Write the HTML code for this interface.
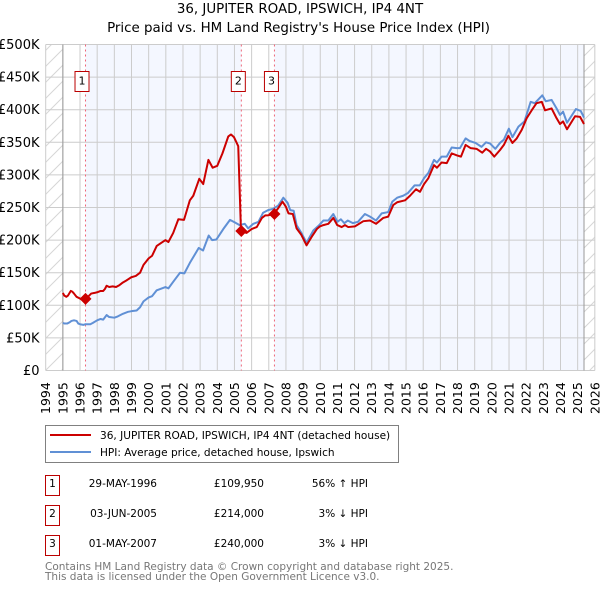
<!DOCTYPE html>
<html lang="en">
<head>
<meta charset="utf-8">
<title>36, JUPITER ROAD, IPSWICH, IP4 4NT</title>
<style>
html,body{margin:0;padding:0;background:#fff;}
#chart{display:block;width:600px;height:590px;font-family:"DejaVu Sans","Liberation Sans",sans-serif;}
</style>
</head>
<body>
<svg id="chart" xmlns="http://www.w3.org/2000/svg" width="600" height="590" viewBox="0 0 600 590">
<defs>
<pattern id="hatch" patternUnits="userSpaceOnUse" width="16" height="16">
<path d="M-1 1L1 -1M0 16L16 0M15 17L17 15" stroke="#d6d6d6" stroke-width="1" fill="none"/>
</pattern>
</defs>
<text x="300" y="13" text-anchor="middle" font-size="13.4" fill="#000">36, JUPITER ROAD, IPSWICH, IP4 4NT</text>
<text x="298.5" y="32" text-anchor="middle" font-size="13.4" fill="#000">Price paid vs. HM Land Registry's House Price Index (HPI)</text>
<g id="plot-bg"></g>
<g id="grid"></g>
<g id="sale-lines"></g>
<g id="series"></g>
<g id="sale-marks"></g>
<g id="y-axis"></g>
<g id="x-axis"></g>

<g>
<rect x="45.5" y="425.5" width="353" height="37" fill="#fff" stroke="#808080" stroke-width="1"/>
<line x1="50" y1="435" x2="91" y2="435" stroke="#cc0000" stroke-width="2"/>
<line x1="50" y1="452" x2="91" y2="452" stroke="#6090d5" stroke-width="2"/>
<text x="100" y="439" font-size="10.55" fill="#000">36, JUPITER ROAD, IPSWICH, IP4 4NT (detached house)</text>
<text x="100" y="456" font-size="10.55" fill="#000">HPI: Average price, detached house, Ipswich</text>
</g>

<g font-size="10.5" fill="#000">
<rect x="45.5" y="475.5" width="14" height="20" fill="#fff" stroke="#bb0000"/>
<text x="52.5" y="487" text-anchor="middle">1</text>
<text x="157" y="487" text-anchor="end">29-MAY-1996</text>
<text x="264" y="487" text-anchor="end">£109,950</text>
<text x="368" y="487" text-anchor="end">56% ↑ HPI</text>
<rect x="45.5" y="505.5" width="14" height="20" fill="#fff" stroke="#bb0000"/>
<text x="52.5" y="517" text-anchor="middle">2</text>
<text x="157" y="517" text-anchor="end">03-JUN-2005</text>
<text x="264" y="517" text-anchor="end">£214,000</text>
<text x="368" y="517" text-anchor="end">3% ↓ HPI</text>
<rect x="45.5" y="535.5" width="14" height="20" fill="#fff" stroke="#bb0000"/>
<text x="52.5" y="547" text-anchor="middle">3</text>
<text x="157" y="547" text-anchor="end">01-MAY-2007</text>
<text x="264" y="547" text-anchor="end">£240,000</text>
<text x="368" y="547" text-anchor="end">3% ↓ HPI</text>
</g>

<text x="45" y="570" font-size="10.5" fill="#777">Contains HM Land Registry data © Crown copyright and database right 2025.</text>
<text x="45" y="580" font-size="10.5" fill="#777">This data is licensed under the Open Government Licence v3.0.</text>
</svg>
<script>
const yearTicks = [1994,1995,1996,1997,1998,1999,2000,2001,2002,2003,2004,2005,2006,2007,2008,2009,2010,2011,2012,2013,2014,2015,2016,2017,2018,2019,2020,2021,2022,2023,2024,2025,2026];
const valueTicks = [0,50,100,150,200,250,300,350,400,450,500];
const valueTickLabels = ['£0','£50K','£100K','£150K','£200K','£250K','£300K','£350K','£400K','£450K','£500K'];

const priceYears = [1995,1995.08,1995.2,1995.3,1995.46,1995.55,1995.65,1995.8,1995.95,1996.1,1996.32,1996.5,1996.65,1996.85,1997,1997.2,1997.35,1997.45,1997.55,1997.7,1997.9,1998.1,1998.3,1998.5,1998.7,1998.99,1999.25,1999.5,1999.7,2000,2000.2,2000.47,2000.75,2000.98,2001.15,2001.43,2001.73,2002.06,2002.4,2002.6,2002.95,2003.18,2003.48,2003.73,2004,2004.3,2004.64,2004.8,2004.97,2005.22,2005.38,2005.7,2006,2006.3,2006.6,2006.8,2006.96,2007.3,2007.55,2007.8,2008,2008.15,2008.4,2008.62,2008.9,2009.2,2009.5,2009.8,2009.98,2010.18,2010.47,2010.76,2010.99,2011.25,2011.44,2011.63,2012.02,2012.51,2012.9,2013.25,2013.67,2013.96,2014.26,2014.48,2014.94,2015.23,2015.58,2015.81,2016.05,2016.3,2016.63,2016.8,2017.07,2017.37,2017.66,2017.95,2018.2,2018.47,2018.77,2019.11,2019.44,2019.66,2019.89,2020.14,2020.47,2020.7,2020.96,2021.2,2021.45,2021.74,2022.03,2022.32,2022.6,2022.91,2023.1,2023.48,2023.77,2023.97,2024.15,2024.38,2024.85,2025.14,2025.37];
const priceValues = [119,115,113,115,122,121,118,113,111,109,110,114,118,119,120,122,122,125,130,128,129,128,131,135,138,143,145,150,162,172,176,191,196,200,197,211,232,231,261,268,294,286,323,311,314,333,359,362,358,344,214,211,217,220,234,238,238,240,249,259,251,241,240,218,208,192,205,217,221,223,225,234,223,220,223,220,221,229,230,225,234,236,254,258,261,268,278,274,286,295,315,311,319,318,333,330,328,346,341,340,334,340,336,328,338,346,360,349,356,369,387,399,410,412,399,402,387,378,382,370,390,389,378];

const hpiYears = [1995,1995.1,1995.25,1995.4,1995.5,1995.65,1995.8,1995.9,1996,1996.2,1996.32,1996.6,1996.75,1997,1997.2,1997.35,1997.55,1997.7,1998,1998.2,1998.5,1998.8,1999,1999.3,1999.5,1999.7,2000,2000.2,2000.47,2000.98,2001.15,2001.43,2001.83,2002.08,2002.4,2002.92,2003.17,2003.5,2003.7,2003.95,2004.35,2004.74,2005.03,2005.3,2005.6,2005.8,2006.1,2006.4,2006.67,2006.96,2007.25,2007.55,2007.85,2008.1,2008.25,2008.45,2008.62,2008.9,2009.2,2009.6,2009.9,2010.18,2010.47,2010.76,2011,2011.2,2011.4,2011.6,2011.9,2012.2,2012.6,2012.9,2013.25,2013.58,2013.96,2014.2,2014.48,2014.83,2015.1,2015.5,2015.8,2016.05,2016.3,2016.63,2016.8,2017.07,2017.37,2017.66,2017.95,2018.14,2018.47,2018.7,2019.05,2019.4,2019.66,2019.9,2020.2,2020.47,2020.7,2020.99,2021.2,2021.55,2021.9,2022.26,2022.5,2022.94,2023.14,2023.48,2023.77,2023.97,2024.15,2024.38,2024.9,2025.18,2025.37];
const hpiValues = [73,72,72,74,76,77,76,72,71,70,71,71,73,77,79,78,85,82,81,83,87,90,91,92,97,106,112,114,123,128,126,136,150,149,165,188,184,207,200,201,217,231,227,223,225,218,225,228,242,246,248,253,265,257,246,245,223,211,196,215,222,230,230,240,228,232,226,230,226,228,240,236,230,241,243,259,265,268,272,284,284,295,303,323,319,328,328,342,341,341,356,352,349,343,350,348,340,349,354,371,358,374,382,412,410,422,413,415,402,392,397,380,401,398,388];

const saleYears = [1996.32,2005.4,2007.33];
const saleValues = [109.95,214,240];
const saleLabels = ['1','2','3'];

const NS = 'http://www.w3.org/2000/svg';
const xOf = y => 45.7 + (y - 1994) * 17.16;
const yOf = v => 370.5 - v * 0.652;
const dataStart = 1995;
const dataEnd = 2025.37;

function mk(parent, tag, attrs) {
  const el = document.createElementNS(NS, tag);
  for (const k in attrs) el.setAttribute(k, attrs[k]);
  parent.appendChild(el);
  return el;
}

const bg = document.getElementById('plot-bg');
const top500 = yOf(500), bottom0 = yOf(0);
const h = bottom0 - top500;

const hatchL = mk(bg, 'rect', {x: xOf(1994), y: top500, width: xOf(dataStart) - xOf(1994), height: h, fill: 'url(#hatch)'});


const hatchR = mk(bg, 'rect', {x: xOf(dataEnd), y: top500, width: xOf(2026) - xOf(dataEnd), height: h, fill: 'url(#hatch)'});


const shade1 = mk(bg, 'rect', {x: xOf(saleYears[0]), y: top500, width: xOf(saleYears[1]) - xOf(saleYears[0]), height: h, fill: '#f4f7ff'});


const shade2 = mk(bg, 'rect', {x: xOf(saleYears[2]), y: top500, width: xOf(dataEnd) - xOf(saleYears[2]), height: h, fill: '#f4f7ff'});



const grid = document.getElementById('grid');
const xAxis = document.getElementById('x-axis');
const yAxis = document.getElementById('y-axis');

yearTicks.forEach(t => {
  const x = xOf(t);
  const gl = mk(grid, 'line', {x1: x, x2: x, y1: top500, y2: bottom0, stroke: '#cccccc', 'stroke-width': 1});
  
  
  const lab = mk(xAxis, 'text', {transform: 'translate(' + (x + 4.5) + ',414) rotate(-90)', 'font-size': 12.5, fill: '#000'});
  
  
  lab.textContent = t;
});
valueTicks.forEach((t, i) => {
  const y = yOf(t);
  const gl = mk(grid, 'line', {x1: xOf(1994), x2: xOf(2026), y1: y, y2: y, stroke: '#cccccc', 'stroke-width': 1});
  
  
  const lab = mk(yAxis, 'text', {x: 39.5, y: y + 4.5, 'text-anchor': 'end', 'font-size': 13, fill: '#000'});
  
  
  lab.textContent = valueTickLabels[i];
});

[dataStart, dataEnd].forEach(t => {
  const b = mk(grid, 'line', {x1: xOf(t), x2: xOf(t), y1: top500, y2: bottom0, stroke: '#999999', 'stroke-width': 1});
  
  
});

const saleLinesG = document.getElementById('sale-lines');
saleYears.forEach(t => {
  const d = mk(saleLinesG, 'line', {x1: xOf(t), x2: xOf(t), y1: top500, y2: bottom0, stroke: '#ee6677', 'stroke-width': 1, 'stroke-dasharray': '2 3'});
  
  
});

const seriesG = document.getElementById('series');
function pathFrom(xs, vs) {
  return xs.map((t, i) => (i ? 'L' : 'M') + xOf(t).toFixed(2) + ' ' + yOf(vs[i]).toFixed(2)).join('');
}
const pricePath = mk(seriesG, 'path', {d: pathFrom(priceYears, priceValues), fill: 'none', stroke: '#cc0000', 'stroke-width': 2, 'stroke-linejoin': 'round'});


const hpiPath = mk(seriesG, 'path', {d: pathFrom(hpiYears, hpiValues), fill: 'none', stroke: '#6090d5', 'stroke-width': 2, 'stroke-linejoin': 'round'});


seriesG.appendChild(pricePath);

const marks = document.getElementById('sale-marks');
saleYears.forEach((t, i) => {
  const cx = xOf(t), cy = yOf(saleValues[i]);
  const r = 6;
  const dia = mk(marks, 'path', {d: 'M' + (cx - r) + ' ' + cy + 'L' + cx + ' ' + (cy - r) + 'L' + (cx + r) + ' ' + cy + 'L' + cx + ' ' + (cy + r) + 'Z', fill: '#cc0000'});
  
  
  const box = mk(marks, 'rect', {x: cx - 7.5 + (i === 0 ? -3 : -2.5), y: 71.5, width: 14, height: 20, fill: '#fff', stroke: '#bb0000', 'stroke-width': 1});
  
  
  const lab = mk(marks, 'text', {x: cx - 0.5 + (i === 0 ? -3 : -2.5), y: 84.5, 'text-anchor': 'middle', 'font-size': 11, fill: '#000'});
  
  
  lab.textContent = saleLabels[i];
});
</script>
</body>
</html>
